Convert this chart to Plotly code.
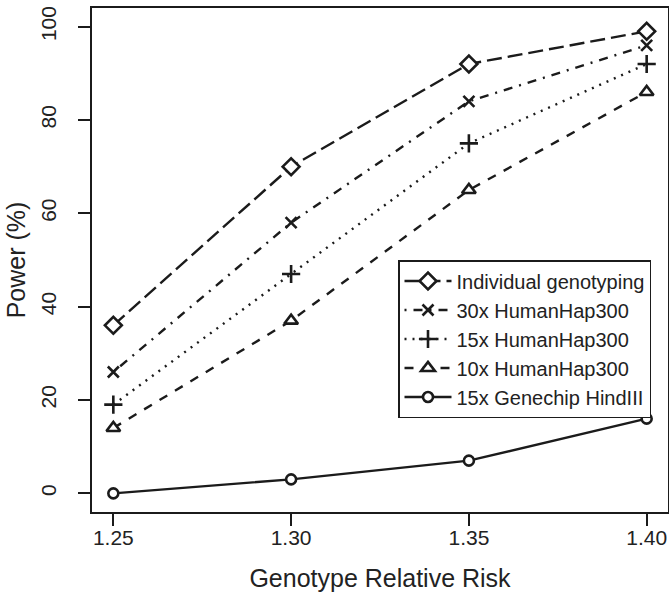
import plotly.graph_objects as go

grr = [1.25, 1.30, 1.35, 1.40]
x_ticks = [1.25, 1.30, 1.35, 1.40]
x_tick_labels = ["1.25", "1.30", "1.35", "1.40"]
y_ticks = [0, 20, 40, 60, 80, 100]

series_names = ["Individual genotyping", "30x HumanHap300", "15x HumanHap300",
                "10x HumanHap300", "15x Genechip HindIII"]
individual = [36, 70, 92, 99]
hap30 = [26, 58, 84, 96]
hap15 = [19, 47, 75, 92]
hap10 = [14, 37, 65, 86]
genechip = [0, 3, 7, 16]

values = [individual, hap30, hap15, hap10, genechip]
symbols = ["diamond", "x-thin-open", "cross-thin-open", "triangle-up", "circle"]
sizes = [13, 11, 13, 12, 10]
dashes = ["15px,6px", "2px,7px,9px,7px", "2px,6px", "9px,9px", "solid"]

INK = "#1b1b1b"
FONT = "Liberation Sans, Arial, Helvetica, sans-serif"

fig = go.Figure()
for name, vals, sym, sz, dash in zip(series_names, values, symbols, sizes, dashes):
    fig.add_trace(go.Scatter(
        x=grr, y=vals, name=name, mode="lines+markers",
        line=dict(color=INK, width=2.4, dash=dash),
        marker=dict(symbol=sym, size=sz, color="white" if "open" not in sym else INK,
                    line=dict(color=INK, width=2.6)),
    ))

fig.update_layout(
    width=669, height=594,
    margin=dict(l=92, r=1, t=8, b=82, autoexpand=False),
    paper_bgcolor="white", plot_bgcolor="white",
    font=dict(family=FONT, color="#222", size=21),
    showlegend=True,
    legend=dict(
        x=(398 - 92) / 576, y=(512 - 260) / 504, xanchor="left", yanchor="top",
        bordercolor=INK, borderwidth=1.5, bgcolor="white",
        font=dict(size=20, family=FONT, color="#222"),
        itemwidth=47, tracegroupgap=0,
    ),
    xaxis=dict(
        range=[1.244, 1.406], tickvals=x_ticks, ticktext=x_tick_labels,
        showgrid=False, zeroline=False, automargin=False,
        showline=True, mirror=True, linecolor=INK, linewidth=1.5,
        ticks="outside", ticklen=12, tickwidth=1.5, tickcolor=INK,
        tickfont=dict(size=21), ticklabelstandoff=-6,
        title=dict(text="Genotype Relative Risk", font=dict(size=25), standoff=22),
    ),
    yaxis=dict(
        range=[-4, 104], tickvals=y_ticks,
        showgrid=False, zeroline=False, automargin=False,
        showline=True, mirror=True, linecolor=INK, linewidth=1.5,
        ticks="outside", ticklen=12, tickwidth=1.5, tickcolor=INK,
        tickfont=dict(size=21), tickangle=-90, ticklabelstandoff=14,
        title=dict(text="Power (%)", font=dict(size=25), standoff=4),
    ),
)

fig.write_html(
    "out.html",
    config={"displayModeBar": False},
    post_script="document.body.style.margin='0';document.body.style.overflow='hidden';",
)
